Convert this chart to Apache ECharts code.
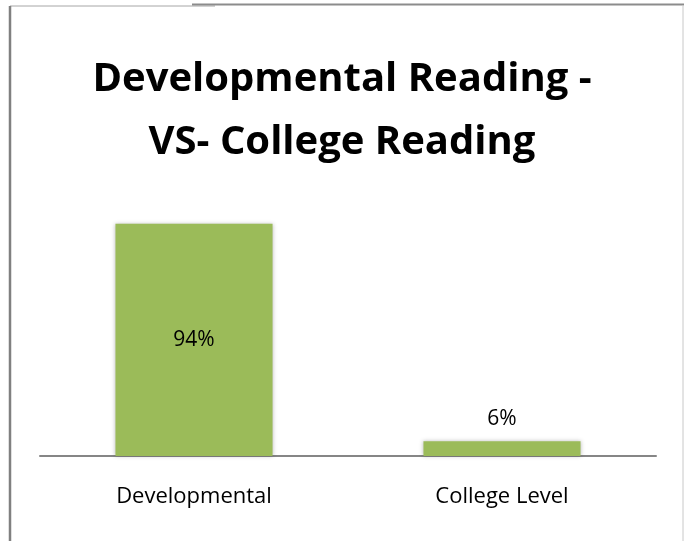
<!DOCTYPE html>
<html>
<head>
<meta charset="utf-8">
<script src="https://cdn.jsdelivr.net/npm/echarts@6/dist/echarts.min.js"></script>
<style>
  html, body { margin: 0; padding: 0; background: #fff; }
  #chart { width: 684px; height: 541px; }
</style>
</head>
<body>
<div id="chart"></div>
<script>
const categories = ['Developmental', 'College Level'];
const percentValues = [94, 6];

const chart = echarts.init(document.getElementById('chart'));

chart.setOption({
  backgroundColor: '#fff',
  animation: false,
  title: {
    text: 'Developmental Reading -\nVS- College Reading',
    left: 'center',
    top: 43,
    textStyle: {
      fontFamily: 'Open Sans',
      fontWeight: 'bold',
      fontSize: 40,
      lineHeight: 63,
      color: '#000'
    }
  },
  // frame lines around the chart area
  graphic: [
    { type: 'line', shape: { x1: 10, y1: 6, x2: 215, y2: 6 }, style: { stroke: '#a6a6a6', lineWidth: 1 } },
    { type: 'line', shape: { x1: 192, y1: 4.5, x2: 684, y2: 4.5 }, style: { stroke: '#8c8c8c', lineWidth: 2 } },
    { type: 'line', shape: { x1: 10, y1: 6, x2: 10, y2: 541 }, style: { stroke: '#808080', lineWidth: 2.5 } },
    { type: 'line', shape: { x1: 683, y1: 5, x2: 683, y2: 541 }, style: { stroke: '#c8c8c8', lineWidth: 1 } }
  ],
  grid: {
    left: 40,
    right: 28,
    top: 209,
    bottom: 85,
    containLabel: false
  },
  xAxis: {
    type: 'category',
    data: categories,
    axisLine: { lineStyle: { color: '#868686', width: 2 } },
    axisTick: { show: false },
    axisLabel: {
      fontFamily: 'Open Sans',
      fontSize: 22,
      color: '#000',
      margin: 30
    }
  },
  yAxis: {
    type: 'value',
    min: 0,
    max: 100,
    show: false,
    splitLine: { show: false }
  },
  series: [
    {
      type: 'bar',
      barWidth: '51%',
      itemStyle: {
        color: '#9bbb59',
        shadowColor: 'rgba(0,0,0,0.25)',
        shadowBlur: 4
      },
      label: {
        show: true,
        formatter: p => p.value + '%',
        fontFamily: 'Open Sans',
        fontSize: 21,
        color: '#000',
        position: 'inside'
      },
      // the small bar gets its label above, like the original
      data: percentValues.map(v => v < 20
        ? { value: v, label: { position: 'top', distance: 12 } }
        : v)
    }
  ]
});
</script>
</body>
</html>
